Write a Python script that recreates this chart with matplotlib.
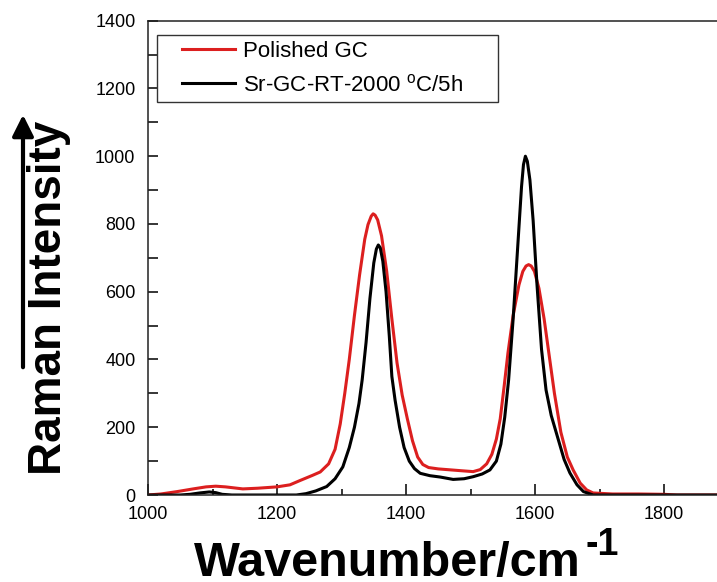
import matplotlib
matplotlib.use("Agg")
import matplotlib.pyplot as plt
from matplotlib.ticker import MultipleLocator
from matplotlib.lines import Line2D
from matplotlib.legend_handler import HandlerLine2D

plt.rcParams['font.family'] = ['Liberation Sans', 'DejaVu Sans']

# Raman spectra (wavenumber in cm^-1, intensity in counts)
polished_wn = [1000, 1020, 1045, 1070, 1090, 1105, 1120, 1147, 1170, 1200, 1220, 1236,
               1255, 1267, 1280, 1290, 1298, 1305, 1312, 1320, 1328, 1336, 1341, 1346,
               1349, 1352, 1356, 1362, 1370, 1378, 1386, 1394, 1402, 1410, 1418, 1426,
               1435, 1450, 1470, 1490, 1504, 1515, 1525, 1533, 1540, 1546, 1552, 1558,
               1566, 1575, 1581, 1586, 1590, 1594, 1599, 1606, 1614, 1622, 1630, 1640,
               1650, 1659, 1670, 1680, 1690, 1720, 1760, 1800, 1820, 1882]
polished_int = [0, 3, 10, 18, 24, 26, 24, 18, 20, 24, 30, 43,
                58, 68, 92, 135, 210, 300, 400, 530, 650, 755, 798, 823,
                830, 826, 812, 765, 660, 520, 390, 295, 225, 160, 112, 90,
                81, 77, 74, 71, 69, 75, 92, 120, 165, 225, 320, 420,
                530, 620, 660, 676, 680, 676, 660, 610, 520, 410, 300, 185,
                112, 74, 35, 15, 6, 3, 3, 2, 0, 0]

treated_wn = [1000, 1050, 1065, 1080, 1095, 1105, 1115, 1130, 1230, 1245, 1260, 1277,
              1290, 1302, 1312, 1320, 1327, 1332, 1338, 1344, 1350, 1354, 1357, 1360,
              1364, 1369, 1374, 1378, 1383, 1390, 1397, 1405, 1413, 1422, 1437, 1453,
              1473, 1490, 1504, 1518, 1530, 1540, 1547, 1553, 1559, 1566, 1574, 1579,
              1582, 1585, 1588, 1592, 1597, 1603, 1610, 1617, 1625, 1635, 1645, 1654,
              1665, 1675, 1690, 1882]
treated_int = [0, 0, 2, 6, 9, 7, 2, 0, 0, 4, 12, 25,
               48, 83, 140, 200, 270, 340, 450, 580, 685, 726, 738, 730,
               690, 600, 470, 350, 280, 200, 140, 100, 78, 64, 57, 53,
               46, 48, 54, 62, 74, 100, 150, 230, 340, 520, 760, 910,
               975, 1000, 985, 930, 810, 620, 430, 310, 235, 170, 105, 65,
               30, 10, 0, 0]

labels = ["Polished GC", "Sr-GC-RT-2000 $^{\\mathregular{o}}$C/5h"]
colors = ["#dc1f1f", "#000000"]

x_range = (1000, 1882)
y_range = (0, 1400)

W, H = 717, 582
fig = plt.figure(figsize=(W / 100, H / 100), dpi=100)
ax = fig.add_axes([148 / W, 87 / H, (W - 148) / W, 474.3 / H])

ax.plot(polished_wn, polished_int, color=colors[0], lw=2.2, label=labels[0],
        solid_joinstyle='round')
ax.plot(treated_wn, treated_int, color=colors[1], lw=2.2, label=labels[1],
        solid_joinstyle='round')

ax.set_xlim(*x_range)
ax.set_ylim(*y_range)

ax.xaxis.set_major_locator(MultipleLocator(200))
ax.xaxis.set_minor_locator(MultipleLocator(100))
ax.yaxis.set_major_locator(MultipleLocator(200))
ax.yaxis.set_minor_locator(MultipleLocator(100))
ax.tick_params(axis='x', which='major', direction='in', length=8, width=1.1,
               labelsize=13, pad=8)
ax.tick_params(axis='x', which='minor', direction='in', length=4.5, width=1.1)
ax.tick_params(axis='y', which='both', direction='in', length=7, width=1.1,
               labelsize=13, pad=9)
ax.tick_params(top=False, right=False, which='both')

for s in ['left', 'bottom', 'top']:
    ax.spines[s].set_linewidth(1.1)
    ax.spines[s].set_color('#222222')
ax.spines['right'].set_visible(False)

leg = ax.legend(loc='upper left', bbox_to_anchor=(0.0158, 0.833, 0.60, 0.137),
                mode='expand', borderaxespad=0, fontsize=16, frameon=True,
                fancybox=False, edgecolor='#333333', framealpha=1,
                handlelength=3.23, handletextpad=0.36, labelspacing=0.53,
                borderpad=0.28,
                handler_map={Line2D: HandlerLine2D(xpad=0.84)})
leg.get_frame().set_linewidth(1.0)

# vertical axis title with an upward arrow
ax.annotate('', xy=(23, H - 112), xytext=(23, H - 370), xycoords='figure pixels',
            arrowprops=dict(arrowstyle='-|>', lw=3, color='k', mutation_scale=32))
fig.text(49 / W, 1 - 298 / H, 'Raman Intensity', rotation=90, ha='center',
         va='center', fontsize=33, fontweight='bold')

# horizontal axis title with a superscript
main = fig.text(194 / W, (H - 576) / H, 'Wavenumber/cm', ha='left', va='baseline',
                fontsize=35, fontweight='bold')
fig.canvas.draw()
bb = main.get_window_extent()
fig.text(bb.x1 / W + 0.006, (H - 555) / H, '-1', ha='left', va='baseline',
         fontsize=27, fontweight='bold')

fig.savefig('out.png', dpi=100)
